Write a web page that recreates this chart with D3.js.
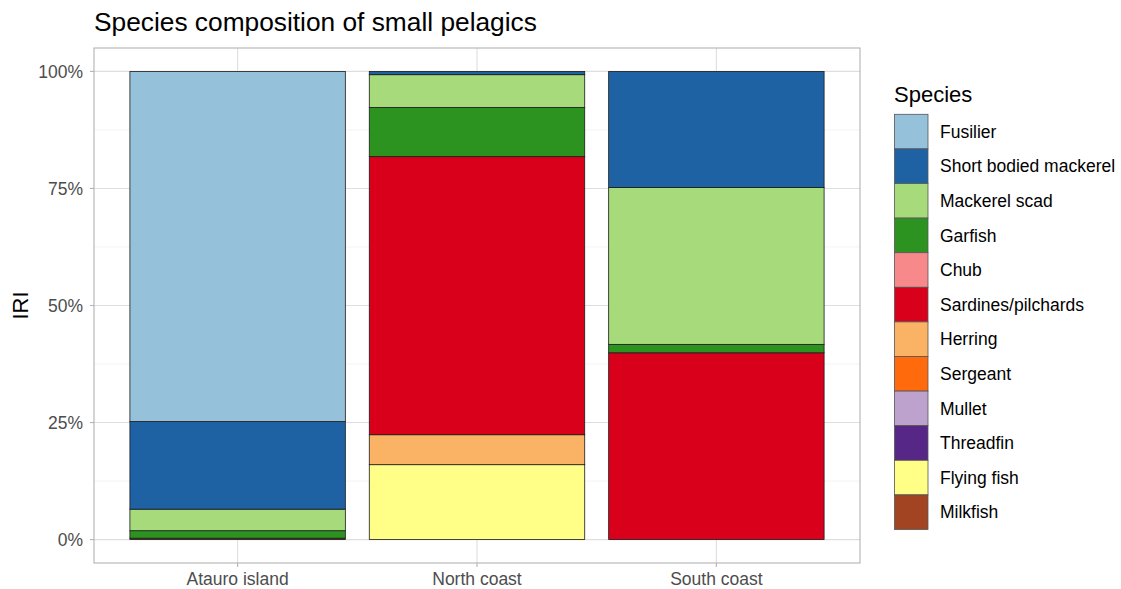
<!DOCTYPE html>
<html><head><meta charset="utf-8">
<script src="https://cdn.jsdelivr.net/npm/d3@7"></script>
<style>body{margin:0;background:#fff;} svg{display:block;font-family:"Liberation Sans",Arial,sans-serif;}</style>
</head><body>
<svg id="chart" width="1121" height="589"></svg>
<script>
const regions = ["Atauro island", "North coast", "South coast"];
const species = ["Fusilier","Short bodied mackerel","Mackerel scad","Garfish","Chub","Sardines/pilchards","Herring","Sergeant","Mullet","Threadfin","Flying fish","Milkfish"];
const colors = ["#96c1da","#1e62a4","#a6da7a","#2c9321","#f8898a","#d9001b","#fab365","#ff6a0d","#bda2ce","#562786","#ffff88","#a24422"];
// percentage values per species, for Atauro island, North coast, South coast
const fusilier   = [74.8, 0, 0];
const sbMackerel = [18.7, 0.7, 24.8];
const mackScad   = [4.6, 7.0, 33.5];
const garfish    = [1.6, 10.5, 1.8];
const chub       = [0, 0, 0];
const sardines   = [0, 59.4, 39.9];
const herring    = [0, 6.4, 0];
const sergeant   = [0, 0, 0];
const mullet     = [0, 0, 0];
const threadfin  = [0, 0, 0];
const flyingFish = [0, 16.0, 0];
const milkfish   = [0.3, 0, 0];
const yTicks = [0, 0.25, 0.5, 0.75, 1];
const yTickLabels = ["0%","25%","50%","75%","100%"];

const seriesVals = [fusilier, sbMackerel, mackScad, garfish, chub, sardines, herring, sergeant, mullet, threadfin, flyingFish, milkfish];
const table = regions.map((r, i) => {
  const row = {region: r};
  let tot = 0;
  species.forEach((s, j) => tot += seriesVals[j][i]);
  species.forEach((s, j) => row[s] = seriesVals[j][i] / tot);
  return row;
});

const svg = d3.select("#chart");
const m = {l: 94, r: 860, t: 48, b: 563};

// ggplot-like discrete axis: 0.6 units expansion each side, bar width 0.9
const x = d3.scalePoint().domain(regions).range([m.l + (m.r - m.l) * 0.6 / 3.2, m.r - (m.r - m.l) * 0.6 / 3.2]);
const bw = 0.9 * x.step();
const y = d3.scaleLinear().domain([-0.05, 1.05]).range([m.b, m.t]);

// panel grid
const g = svg.append("g");
const minor = [0.125, 0.375, 0.625, 0.875];
g.selectAll(".minor").data(minor).enter().append("line")
  .attr("x1", m.l).attr("x2", m.r).attr("y1", d => y(d)).attr("y2", d => y(d))
  .attr("stroke", "#ebebeb").attr("stroke-width", 0.6);
g.selectAll(".major").data(yTicks).enter().append("line")
  .attr("x1", m.l).attr("x2", m.r).attr("y1", d => y(d)).attr("y2", d => y(d))
  .attr("stroke", "#dedede").attr("stroke-width", 1.1);
g.selectAll(".vmajor").data(regions).enter().append("line")
  .attr("x1", d => x(d)).attr("x2", d => x(d)).attr("y1", m.t).attr("y2", m.b)
  .attr("stroke", "#dedede").attr("stroke-width", 1.1);

// stacked bars: first species at top
const stack = d3.stack().keys(species.slice().reverse());
const layers = stack(table);
const colorOf = d3.scaleOrdinal().domain(species).range(colors);
layers.forEach(layer => {
  svg.append("g").selectAll("rect").data(layer.filter(d => d[1] - d[0] > 0)).enter().append("rect")
    .attr("x", d => x(d.data.region) - bw/2)
    .attr("width", bw)
    .attr("y", d => y(d[1]))
    .attr("height", d => y(d[0]) - y(d[1]))
    .attr("fill", colorOf(layer.key))
    .attr("stroke", "#1a1a1a").attr("stroke-width", 0.8);
});

// panel border
svg.append("rect").attr("x", m.l).attr("y", m.t).attr("width", m.r - m.l).attr("height", m.b - m.t)
  .attr("fill", "none").attr("stroke", "#b3b3b3").attr("stroke-width", 1.1);

// y axis
const ya = svg.append("g");
yTicks.forEach((t, i) => {
  ya.append("line").attr("x1", m.l - 4).attr("x2", m.l).attr("y1", y(t)).attr("y2", y(t)).attr("stroke", "#b3b3b3").attr("stroke-width", 1.1);
  ya.append("text").attr("x", m.l - 11).attr("y", y(t)).attr("dy", "0.35em").attr("text-anchor", "end")
    .attr("font-size", 17.5).attr("fill", "#4d4d4d").text(yTickLabels[i]);
});
// x axis
regions.forEach(r => {
  svg.append("line").attr("x1", x(r)).attr("x2", x(r)).attr("y1", m.b).attr("y2", m.b + 4).attr("stroke", "#b3b3b3").attr("stroke-width", 1.1);
  svg.append("text").attr("x", x(r)).attr("y", m.b + 21.5).attr("text-anchor", "middle")
    .attr("font-size", 17.5).attr("fill", "#4d4d4d").text(r);
});

// titles
svg.append("text").attr("x", 94).attr("y", 31).attr("font-size", 26.3).attr("fill", "#000").text("Species composition of small pelagics");
svg.append("text").attr("transform", `translate(28,${y(0.5)}) rotate(-90)`).attr("text-anchor", "middle")
  .attr("font-size", 22).attr("fill", "#000").text("IRI");

// legend
const lg = svg.append("g");
lg.append("text").attr("x", 894).attr("y", 102).attr("font-size", 22).attr("fill", "#000").text("Species");
const kh = 34.6;
species.forEach((s, i) => {
  const yy = 114.3 + i * kh;
  lg.append("rect").attr("x", 894.5).attr("y", yy).attr("width", 33.5).attr("height", kh)
    .attr("fill", colorOf(s)).attr("stroke", "#555").attr("stroke-width", 0.8);
  lg.append("text").attr("x", 940).attr("y", yy + kh/2).attr("dy", "0.35em").attr("font-size", 17.5).attr("fill", "#000").text(s);
});
</script>
</body></html>
